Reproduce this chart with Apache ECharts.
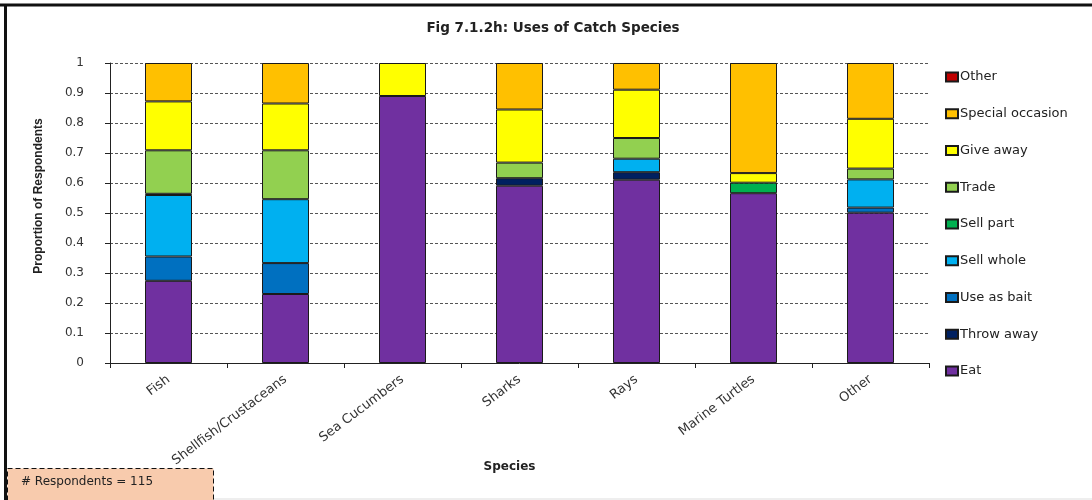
<!DOCTYPE html>
<html>
<head>
<meta charset="utf-8">
<script src="https://cdn.jsdelivr.net/npm/echarts@6/dist/echarts.min.js"></script>
<style>
  html, body { margin: 0; padding: 0; background: #fff; }
  #chart { width: 1092px; height: 500px; }
</style>
</head>
<body>
<div id="chart"></div>
<script>
// Species groups along the x axis
const species = ['Fish', 'Shellfish/Crustaceans', 'Sea Cucumbers', 'Sharks', 'Rays', 'Marine Turtles', 'Other'];

// Proportion of respondents per use, one value per species (stacked bottom to top)
const eat             = [0.274, 0.230, 0.890, 0.591, 0.611, 0.566, 0.501];
const throwAway       = [0,     0,     0,     0.025, 0.025, 0,     0];
const useAsBait       = [0.081, 0.103, 0,     0,     0,     0,     0.017];
const sellWhole       = [0.205, 0.213, 0,     0,     0.045, 0,     0.094];
const sellPart        = [0.004, 0,     0,     0,     0,     0.035, 0];
const trade           = [0.145, 0.163, 0,     0.052, 0.069, 0,     0.036];
const giveAway        = [0.163, 0.156, 0.110, 0.177, 0.161, 0.032, 0.166];
const specialOccasion = [0.128, 0.135, 0,     0.155, 0.089, 0.367, 0.186];
const otherUse        = [0,     0,     0,     0,     0,     0,     0];

const yTicks = ['0', '0.1', '0.2', '0.3', '0.4', '0.5', '0.6', '0.7', '0.8', '0.9', '1'];

const uses = [
  { name: 'Eat',              data: eat,             color: '#7030A0' },
  { name: 'Throw away',       data: throwAway,       color: '#002060' },
  { name: 'Use as bait',      data: useAsBait,       color: '#0070C0' },
  { name: 'Sell whole',       data: sellWhole,       color: '#00B0F0' },
  { name: 'Sell part',        data: sellPart,        color: '#00B050' },
  { name: 'Trade',            data: trade,           color: '#92D050' },
  { name: 'Give away',        data: giveAway,        color: '#FFFF00' },
  { name: 'Special occasion', data: specialOccasion, color: '#FFC000' },
  { name: 'Other',            data: otherUse,        color: '#C00000' }
];

const chart = echarts.init(document.getElementById('chart'), null, { renderer: 'canvas' });

const series = uses.map(u => ({
  name: u.name,
  type: 'bar',
  stack: 'uses',
  barWidth: 47,
  // empty segments are left out so they draw no outline
  data: u.data.map(v => (v === 0 ? null : v)),
  itemStyle: { color: u.color, borderColor: '#1a1a1a', borderWidth: 1 },
  emphasis: { disabled: true }
}));

chart.setOption({
  animation: false,
  backgroundColor: '#ffffff',
  title: {
    text: 'Fig 7.1.2h: Uses of Catch Species',
    left: 548,
    top: 16,
    textAlign: 'center',
    textStyle: { fontFamily: 'DejaVu Sans', fontSize: 13.5, fontWeight: 'bold', color: '#222' }
  },
  grid: { left: 110, right: 163, top: 63, bottom: 137 },
  legend: {
    orient: 'vertical',
    left: 940,
    top: 65,
    itemWidth: 12,
    itemHeight: 9,
    itemGap: 22.75,
    icon: 'rect',
    selectedMode: false,
    data: uses.map(u => u.name).reverse(),
    textStyle: { fontFamily: 'DejaVu Sans', fontSize: 13, color: '#222', lineHeight: 14, padding: [0, 0, 0, -3] }
  },
  xAxis: {
    type: 'category',
    data: species,
    name: 'Species',
    nameLocation: 'middle',
    nameGap: 98,
    nameMoveOverlap: false,
    nameTextStyle: { fontFamily: 'DejaVu Sans', fontSize: 12, fontWeight: 'bold', color: '#222', padding: [0, 20, 0, 0] },
    axisLine: { lineStyle: { color: '#222', width: 1 } },
    axisTick: { show: true, length: 5, lineStyle: { color: '#222' } },
    axisLabel: { rotate: 37, margin: 15, fontFamily: 'DejaVu Sans', fontSize: 13, color: '#333' }
  },
  yAxis: {
    type: 'value',
    min: 0,
    max: 1,
    interval: 0.1,
    name: 'Proportion of Respondents',
    nameLocation: 'middle',
    nameGap: 65,
    nameTextStyle: {
      fontFamily: 'Liberation Sans Narrow, Liberation Sans',
      fontSize: 12,
      fontWeight: 'bold',
      color: '#222',
      padding: [0, 0, 0, 34]
    },
    axisLine: { show: true, lineStyle: { color: '#222', width: 1 } },
    axisTick: { show: true, length: 5, lineStyle: { color: '#222' } },
    axisLabel: {
      margin: 26,
      fontFamily: 'DejaVu Sans',
      fontSize: 12,
      color: '#333',
      formatter: v => yTicks[Math.round(v * 10)]
    },
    splitLine: { lineStyle: { color: '#555', type: [3, 2], width: 1 } }
  },
  series: series,
  graphic: [
    // outer chart frame
    { type: 'line', shape: { x1: 0, y1: 5, x2: 1092, y2: 5 }, style: { stroke: '#111', lineWidth: 3 }, silent: true },
    { type: 'line', shape: { x1: 5.5, y1: 4, x2: 5.5, y2: 500 }, style: { stroke: '#111', lineWidth: 3 }, silent: true },
    { type: 'line', shape: { x1: 214, y1: 499, x2: 1092, y2: 499 }, style: { stroke: '#ddd', lineWidth: 1 }, silent: true },
    // respondents note box
    {
      type: 'rect',
      shape: { x: 7.5, y: 468.5, width: 206, height: 34 },
      style: { fill: '#F8CBAD', stroke: '#111', lineWidth: 1, lineDash: [5, 3] },
      silent: true
    },
    {
      type: 'text',
      left: 21,
      top: 476,
      style: { text: '# Respondents = 115', font: '12px "DejaVu Sans"', fill: '#222' },
      silent: true
    }
  ]
});
</script>
</body>
</html>
